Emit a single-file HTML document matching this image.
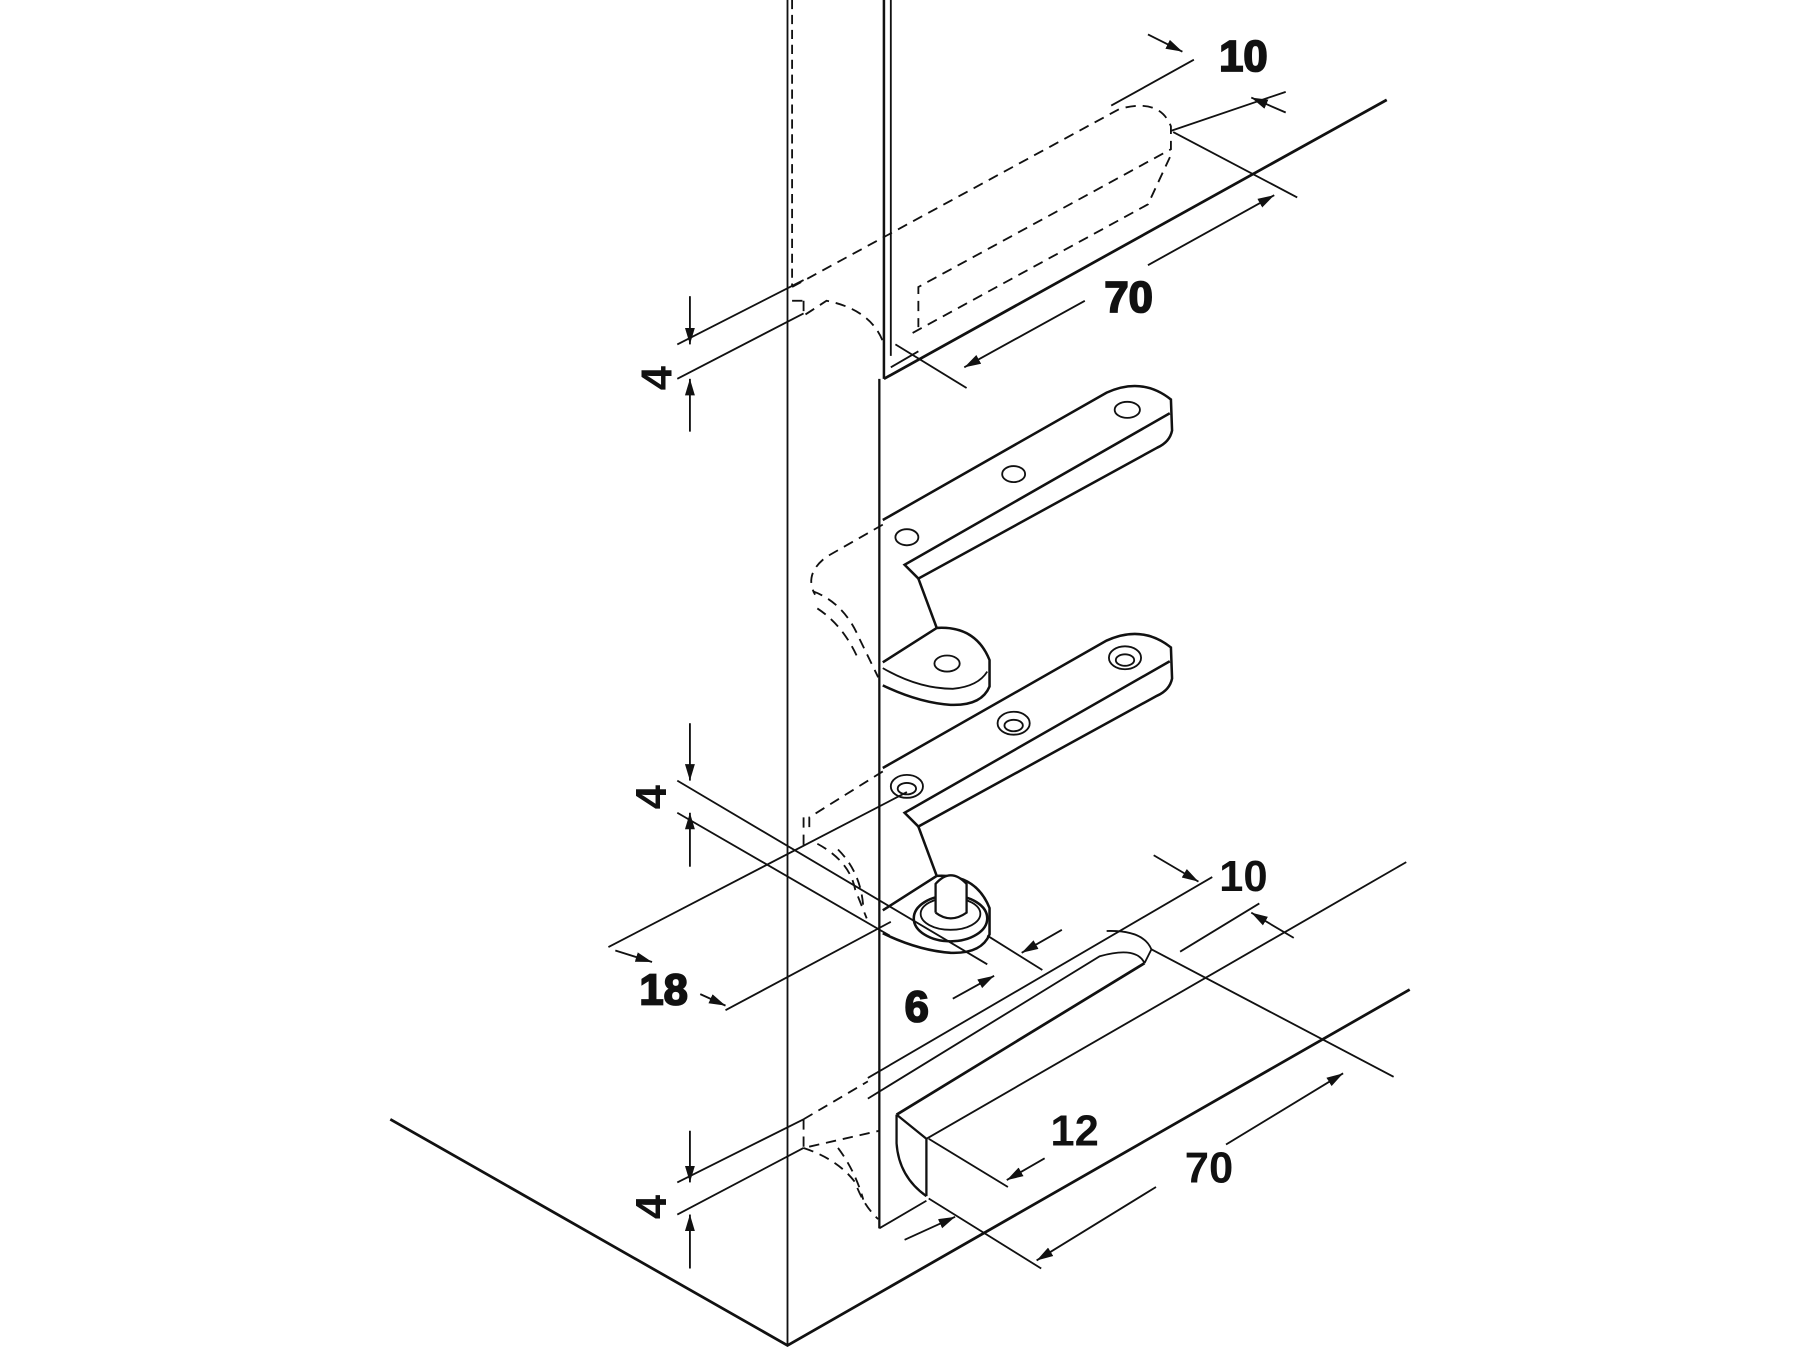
<!DOCTYPE html>
<html><head><meta charset="utf-8"><style>
html,body{margin:0;padding:0;background:#fff;width:1800px;height:1350px;overflow:hidden}
svg{display:block}
text{font-family:"Liberation Sans",sans-serif;font-weight:bold;font-size:38px;fill:#111}
</style></head><body>
<svg width="1800" height="1350" viewBox="0 0 1568 1176" xmlns="http://www.w3.org/2000/svg">
<defs>
<marker id="a" viewBox="0 0 10 10" refX="10" refY="5" markerWidth="9" markerHeight="9" orient="auto-start-reverse"><path d="M0,2 L10,5 L0,8 z" fill="#111"/></marker>
</defs>
<g stroke="#111" fill="none" stroke-width="1.6">
<line x1="686" y1="0" x2="686" y2="1172"/>
<line x1="766" y1="330" x2="766" y2="1070" stroke-width="2"/>
<line x1="770" y1="0" x2="770" y2="330" stroke-width="2.2"/>
<line x1="776" y1="0" x2="776" y2="310"/>
<line x1="690" y1="0" x2="690" y2="250" stroke-dasharray="8,5"/>
<polyline points="340,975 686,1172 1228,862" stroke-width="2.4"/>
<line x1="770" y1="330" x2="1208" y2="87" stroke-width="2.4"/>
<line x1="776" y1="320" x2="800" y2="306"/>
<g stroke-dasharray="9,6">
<path d="M690,250 L975,95 Q1010,85 1020,110 L1020,130 L800,250 L800,285"/>
<path d="M700,262 L700,275 L720,262 Q760,270 770,300"/>
<path d="M795,290 L1000,178 L1020,135"/>
<line x1="690" y1="262" x2="700" y2="262"/>
</g>
<line x1="968" y1="92" x2="1040" y2="52"/>
<line x1="1000" y1="30" x2="1030" y2="45" marker-end="url(#a)"/>
<line x1="1020" y1="114" x2="1120" y2="80"/>
<line x1="1090" y1="85" x2="1120" y2="98" marker-start="url(#a)"/>
<line x1="1022" y1="115" x2="1130" y2="172"/>
<line x1="1110" y1="170" x2="1000" y2="231" marker-start="url(#a)"/>
<line x1="945" y1="262" x2="840" y2="320" marker-end="url(#a)"/>
<line x1="780" y1="300" x2="842" y2="338"/>
<text x="1062" y="62">10</text>
<text x="962" y="272">70</text>
<line x1="590" y1="300" x2="700" y2="244"/>
<line x1="590" y1="330" x2="700" y2="273"/>
<line x1="601" y1="258" x2="601" y2="300" marker-end="url(#a)"/>
<line x1="601" y1="376" x2="601" y2="330" marker-end="url(#a)"/>
<!-- hinge 1 -->
<g stroke-width="2.2">
<path d="M769,453 L964,342 Q995,328 1020,348 L1021,375 Q1019,385 1008,390 L800,504 L788,492 L1019,360"/>
<path d="M800,504 L816,547"/>
<path d="M769,577 L816,547 Q850,545 862,575 L862,598 Q855,615 828,614 Q800,612 769,597"/>
</g>
<path d="M769,582 Q800,600 830,600 Q852,598 860,585"/>
<ellipse cx="982" cy="357" rx="11" ry="7"/>
<ellipse cx="883" cy="413" rx="10" ry="7"/>
<ellipse cx="790" cy="468" rx="10" ry="7"/>
<ellipse cx="825" cy="578" rx="11" ry="7"/>
<g stroke-dasharray="9,6">
<path d="M769,457 L720,485 Q700,500 710,518"/>
<path d="M708,515 Q735,525 748,555 L765,590"/>
<path d="M712,530 Q735,545 748,575"/>
</g>
<!-- hinge 2 -->
<g stroke-width="2.2">
<path d="M769,669 L964,558 Q995,544 1020,564 L1021,591 Q1019,601 1008,606 L800,720 L788,708 L1019,576"/>
<path d="M800,720 L816,763"/>
<path d="M769,793 L816,763 Q850,761 862,791 L862,814 Q855,831 828,830 Q800,828 769,813"/>
</g>
<ellipse cx="980" cy="573" rx="14" ry="10"/><ellipse cx="980" cy="575" rx="8" ry="5"/>
<ellipse cx="883" cy="630" rx="14" ry="10"/><ellipse cx="883" cy="632" rx="8" ry="5"/>
<ellipse cx="790" cy="685" rx="14" ry="10"/><ellipse cx="790" cy="687" rx="8" ry="5"/>
<ellipse cx="828" cy="800" rx="32" ry="20" stroke-width="2.2" fill="#fff"/>
<ellipse cx="828" cy="796" rx="26" ry="14"/>
<path d="M815,795 L815,770 Q828,755 842,770 L842,795 Q828,805 815,795" stroke-width="2" fill="#fff"/>
<g stroke-dasharray="9,6">
<path d="M769,672 L705,712 L705,725"/>
<path d="M700,712 L700,740"/>
<path d="M712,735 Q740,750 745,775 L755,800"/>
<path d="M730,740 Q750,760 752,790"/>
</g>
<line x1="590" y1="680" x2="860" y2="840"/>
<line x1="590" y1="708" x2="775" y2="815"/>
<line x1="601" y1="630" x2="601" y2="680" marker-end="url(#a)"/>
<line x1="601" y1="755" x2="601" y2="708" marker-end="url(#a)"/>
<line x1="530" y1="825" x2="790" y2="690"/>
<line x1="632" y1="880" x2="776" y2="803"/>
<line x1="536" y1="828" x2="568" y2="838" marker-end="url(#a)"/>
<line x1="610" y1="866" x2="632" y2="876" marker-end="url(#a)"/>
<line x1="860" y1="815" x2="908" y2="845"/>
<line x1="925" y1="810" x2="890" y2="830" marker-end="url(#a)"/>
<line x1="830" y1="870" x2="866" y2="850" marker-end="url(#a)"/>
<text x="557" y="875">18</text>
<text x="788" y="890">6</text>
<!-- bottom slot and block -->
<line x1="756" y1="939" x2="1056" y2="764"/>
<path d="M964,811 Q996,810 1003,827 L997,839"/>
<path d="M756,957 L958,833 Q990,824 997,839"/>
<path d="M781,971 L997,839" stroke-width="2.4"/>
<line x1="1028" y1="829" x2="1097" y2="787"/>
<line x1="807" y1="992" x2="1225" y2="751"/>
<line x1="1003" y1="827" x2="1214" y2="938"/>
<line x1="1005" y1="745" x2="1044" y2="768" marker-end="url(#a)"/>
<line x1="1127" y1="817" x2="1090" y2="795" marker-end="url(#a)"/>
<path d="M781,971 L807,992 L807,1042" stroke-width="2"/>
<path d="M781,971 L781,996 Q783,1025 807,1042" stroke-width="2"/>
<line x1="766" y1="1070" x2="807" y2="1046"/>
<line x1="809" y1="992" x2="878" y2="1034"/>
<line x1="910" y1="1009" x2="877" y2="1028" marker-end="url(#a)"/>
<line x1="809" y1="1044" x2="907" y2="1105"/>
<line x1="1170" y1="935" x2="1068" y2="997" marker-start="url(#a)"/>
<line x1="1007" y1="1034" x2="903" y2="1098" marker-end="url(#a)"/>
<line x1="788" y1="1080" x2="832" y2="1060" marker-end="url(#a)"/>
<g stroke-dasharray="9,6">
<path d="M700,975 L756,942"/>
<path d="M700,975 L700,1000 L766,985"/>
<path d="M700,1000 Q730,1010 745,1030 Q752,1050 765,1062"/>
<path d="M730,1000 Q745,1020 752,1045"/>
</g>
<line x1="590" y1="1030" x2="700" y2="975"/>
<line x1="590" y1="1058" x2="700" y2="1000"/>
<line x1="601" y1="985" x2="601" y2="1030" marker-end="url(#a)"/>
<line x1="601" y1="1105" x2="601" y2="1058" marker-end="url(#a)"/>
</g>
<text x="1062" y="776">10</text>
<text x="915" y="998">12</text>
<text x="1032" y="1030">70</text>
<text transform="translate(585,340) rotate(-90)">4</text>
<text transform="translate(580,705) rotate(-90)">4</text>
<text transform="translate(580,1062) rotate(-90)">4</text>
</svg>
</body></html>
